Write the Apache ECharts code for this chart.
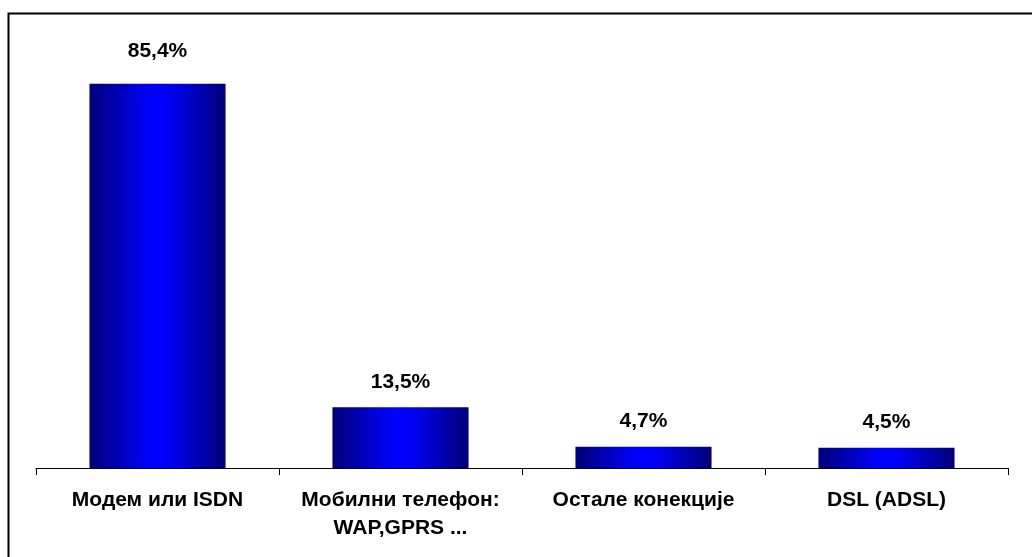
<!DOCTYPE html>
<html>
<head>
<meta charset="utf-8">
<script src="https://cdn.jsdelivr.net/npm/echarts@6/dist/echarts.min.js"></script>
<style>
  html, body { margin: 0; padding: 0; background: #fff; }
  #chart { width: 1032px; height: 557px; }
</style>
</head>
<body>
<div id="chart"></div>
<script>
var categories = ["Модем или ISDN", "Мобилни телефон:\nWAP,GPRS ...", "Остале конекције", "DSL (ADSL)"];
var values = [85.4, 13.5, 4.7, 4.5];
var labels = ["85,4%", "13,5%", "4,7%", "4,5%"];

var barColor = new echarts.graphic.LinearGradient(0, 0, 1, 0, [
  { offset: 0, color: "#000078" },
  { offset: 0.45, color: "#0000ff" },
  { offset: 0.55, color: "#0000ff" },
  { offset: 1, color: "#000078" }
]);

// the tallest bar's label sits a bit higher in the original
var barData = values.map(function (v, i) {
  return i === 0 ? { value: v, label: { distance: 22 } } : v;
});

var chart = echarts.init(document.getElementById("chart"));
chart.setOption({
  animation: false,
  textStyle: { fontFamily: "Liberation Sans, Arial, sans-serif" },
  graphic: [
    {
      type: "rect",
      shape: { x: 8.5, y: 13.5, width: 1040, height: 600 },
      style: { fill: "none", stroke: "#000", lineWidth: 2 },
      z: 10
    }
  ],
  grid: { left: 36, right: 24, top: 18, bottom: 89 },
  xAxis: {
    type: "category",
    data: categories,
    axisLine: { lineStyle: { color: "#000", width: 1 } },
    axisTick: { show: true, length: 7, lineStyle: { color: "#000" } },
    axisLabel: {
      color: "#000",
      fontWeight: "bold",
      fontSize: 21,
      lineHeight: 28,
      margin: 18,
      interval: 0
    }
  },
  yAxis: {
    type: "value",
    min: 0,
    max: 100,
    show: false,
    splitLine: { show: false }
  },
  series: [
    {
      type: "bar",
      data: barData,
      barWidth: "56%",
      itemStyle: { color: barColor },
      label: {
        show: true,
        position: "top",
        distance: 15,
        color: "#000",
        fontWeight: "bold",
        fontSize: 21,
        formatter: function (p) { return labels[p.dataIndex]; }
      }
    }
  ]
});
</script>
</body>
</html>
